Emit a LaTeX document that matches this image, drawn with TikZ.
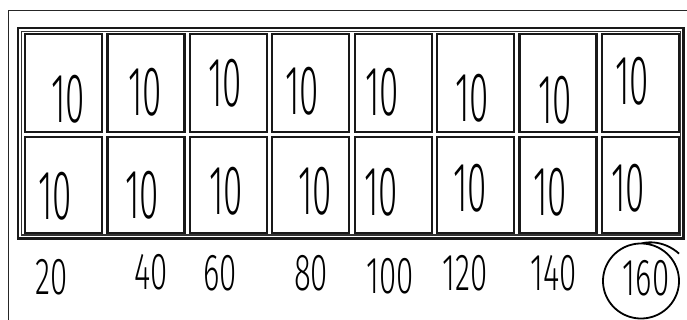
\documentclass[tikz,border=0pt]{standalone}
\usepackage{graphicx}
\usepackage{fontspec}
\newfontfamily\handfont{Fira Sans Light}
\newcommand{\slim}[2]{\scalebox{#1}[1]{#2}}

\begin{document}
\begin{tikzpicture}[
    x=1pt,y=-1pt,
    cell/.style={line width=2.2pt,black!90},
    cellnum/.style={font=\handfont\fontsize{70}{70}\selectfont,inner sep=0pt},
    sumnum/.style={font=\handfont\fontsize{52}{52}\selectfont,inner sep=0pt}]
    \useasboundingbox (0,0) rectangle (687,320);
    \draw[black!85,line width=1pt] (687,10.5) -- (8,10.5) -- (8,320);
    \draw[black!90,line width=2.4pt] (18,28) rectangle (683.5,238.5);
    \draw[black!80,line width=1.5pt] (21.5,31.5) rectangle (680.5,235.2);
    \foreach \c in {0,...,7} {
        \pgfmathsetmacro{\xa}{25+82.4*\c}
        \pgfmathsetmacro{\xb}{\xa+77}
        \draw[cell] (\xa,34.2) rectangle (\xb,132);
        \draw[cell] (\xa,137) rectangle (\xb,232.8);
    }
    \foreach \x/\y [count=\i] in {68/99,145/92,225/83,302/91,382/92,472/98,555/100,632/81}
        \node[cellnum] (t\i) at (\x,\y) {\slim{.5}{10}};
    \foreach \x/\y [count=\i] in {55/196,142/195,226/191,315/191,381/192,470/188,550/192,628/188}
        \node[cellnum] (b\i) at (\x,\y) {\slim{.5}{10}};
    \foreach \x/\y/\v [count=\i] in {52/277/20,151/272/40,220/273/60,311/273/80,
        390/276/100,465/273/120,554/273/140,646/278/160}
        \node[sumnum] (s\i) at (\x,\y) {\slim{.6}{\v}};
    \draw[black,line width=1.8pt,shift={(s8)}]
        plot[domain=36:450,samples=140,smooth]
        ({-5+(38+9*max(0,(90-\x)/54))*cos(\x)},{3-(37.5+9*max(0,(90-\x)/54))*sin(\x)});
\end{tikzpicture}
\end{document}
